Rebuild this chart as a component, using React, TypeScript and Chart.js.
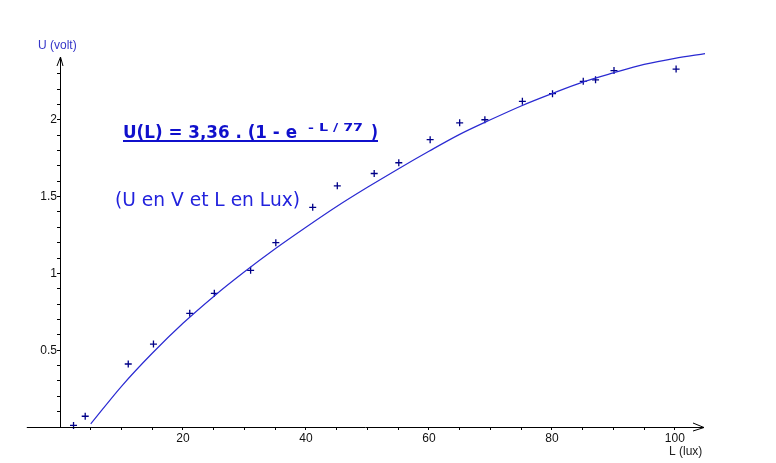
import React, { useEffect, useRef } from 'react';
import { Chart, registerables } from 'chart.js';

Chart.register(...registerables);

// Measured points (L in lux, U in volt)
const measuredL = [2.2, 4.1, 11.1, 15.2, 21.1, 25.1, 31.0, 35.1, 41.1, 45.1, 51.1, 55.1, 60.2, 65.0, 69.1, 75.2, 80.1, 85.1, 87.1, 90.1, 100.2];
const measuredU = [0.01, 0.07, 0.41, 0.54, 0.74, 0.87, 1.02, 1.20, 1.43, 1.57, 1.65, 1.72, 1.87, 1.98, 2.00, 2.12, 2.17, 2.25, 2.26, 2.32, 2.33];

// Model curve
const curveL = [5, 10, 15, 20, 25, 30, 35, 40, 45, 50, 55, 60, 65, 70, 75, 80, 85, 90, 95, 100, 104.9];
const curveU = [0.02, 0.265, 0.48, 0.675, 0.85, 1.01, 1.16, 1.3, 1.435, 1.56, 1.68, 1.795, 1.905, 2.0, 2.09, 2.17, 2.245, 2.305, 2.36, 2.4, 2.43];

// Ticks
const xTickValues = [5, 10, 15, 20, 25, 30, 35, 40, 45, 50, 55, 60, 65, 70, 75, 80, 85, 90, 95, 100];
const xLabelValues = [20, 40, 60, 80, 100];
const yTickValues = [0.1, 0.2, 0.3, 0.4, 0.5, 0.6, 0.7, 0.8, 0.9, 1.0, 1.1, 1.2, 1.3, 1.4, 1.5, 1.6, 1.7, 1.8, 1.9, 2.0, 2.1, 2.2, 2.3];
const yLabelValues = [0.5, 1, 1.5, 2];

const X_MIN = 0;
const X_MAX = 104.9;
const X_AXIS_START = -5.4;
const Y_MIN = 0;
const Y_MAX = 2.415;

const xTitle = 'L (lux)';
const yTitle = 'U (volt)';
const formulaMain = 'U(L) = 3,36 . (1 - e';
const formulaSup = '- L / 77';
const formulaEnd = ')';
const unitsNote = '(U en V et L en Lux)';

const TICK_FONT = '12px "Liberation Sans", Arial, sans-serif';

const isLabel = (list: number[], v: number) => list.some((t) => Math.abs(t - v) < 1e-6);

const drawFitted = (ctx: CanvasRenderingContext2D, text: string, x: number, y: number, width: number) => {
  const w = ctx.measureText(text).width;
  const sx = width / w;
  ctx.save();
  ctx.translate(x, y);
  ctx.scale(sx, 1);
  ctx.fillText(text, 0, 0);
  ctx.restore();
};

const decorPlugin = {
  id: 'decor',
  afterDraw(chart: any) {
    const ctx: CanvasRenderingContext2D = chart.ctx;
    const xs = chart.scales.x;
    const ys = chart.scales.y;
    const x0 = xs.getPixelForValue(0);
    const y0 = ys.getPixelForValue(0);
    const xStart = xs.getPixelForValue(X_AXIS_START);
    const xEnd = xs.getPixelForValue(X_MAX);
    const yTop = ys.getPixelForValue(Y_MAX);

    ctx.save();
    ctx.strokeStyle = '#000';
    ctx.lineWidth = 1;
    // x axis
    ctx.beginPath();
    ctx.moveTo(xStart, Math.round(y0) + 0.5);
    ctx.lineTo(xEnd - 1, Math.round(y0) + 0.5);
    ctx.stroke();
    // arrow x
    ctx.beginPath();
    ctx.moveTo(xEnd - 12, y0 - 4);
    ctx.lineTo(xEnd - 1, Math.round(y0) + 0.5);
    ctx.lineTo(xEnd - 12, y0 + 4);
    ctx.stroke();
    // y axis
    ctx.beginPath();
    ctx.moveTo(Math.round(x0) + 0.5, y0);
    ctx.lineTo(Math.round(x0) + 0.5, yTop + 1);
    ctx.stroke();
    // arrow y
    ctx.beginPath();
    ctx.moveTo(x0 - 3, yTop + 10);
    ctx.lineTo(Math.round(x0) + 0.5, yTop + 1);
    ctx.lineTo(x0 + 3, yTop + 10);
    ctx.stroke();

    // axis titles
    ctx.font = TICK_FONT;
    ctx.textBaseline = 'middle';
    ctx.textAlign = 'left';
    ctx.fillStyle = '#3535c8';
    ctx.fillText(yTitle, 38, 46);
    ctx.fillStyle = '#222';
    ctx.fillText(xTitle, 669, 452);

    // formula
    ctx.fillStyle = '#1010cc';
    ctx.strokeStyle = '#1010cc';
    ctx.textBaseline = 'alphabetic';
    ctx.font = 'bold 17px "DejaVu Sans", sans-serif';
    drawFitted(ctx, formulaMain, 123, 138, 174);
    ctx.font = 'bold 11px "DejaVu Sans", sans-serif';
    drawFitted(ctx, formulaSup, 308, 131, 55);
    ctx.font = 'bold 17px "DejaVu Sans", sans-serif';
    drawFitted(ctx, formulaEnd, 371, 138, 7);
    ctx.lineWidth = 2;
    ctx.beginPath();
    ctx.moveTo(123, 141);
    ctx.lineTo(378, 141);
    ctx.stroke();

    // units note
    ctx.fillStyle = '#2222dd';
    ctx.font = '19px "DejaVu Sans", sans-serif';
    drawFitted(ctx, unitsNote, 115, 206, 185);
    ctx.restore();
  },
};

export default function App() {
  const canvasRef = useRef<HTMLCanvasElement | null>(null);

  useEffect(() => {
    if (!canvasRef.current) return;
    const points = measuredL.map((l, i) => ({ x: l, y: measuredU[i] }));
    const curve = curveL.map((l, i) => ({ x: l, y: curveU[i] }));

    const chart = new Chart(canvasRef.current, {
      type: 'scatter',
      data: {
        datasets: [
          {
            label: 'modèle',
            data: curve,
            showLine: true,
            borderColor: '#2a2ad2',
            borderWidth: 1.2,
            pointRadius: 0,
            cubicInterpolationMode: 'monotone',
            fill: false,
            clip: false,
          } as any,
          {
            label: 'mesures',
            data: points,
            pointStyle: 'cross',
            pointRadius: 3.5,
            borderColor: '#000088',
            backgroundColor: '#000088',
            borderWidth: 1.3,
            showLine: false,
            clip: false,
          } as any,
        ],
      },
      options: {
        animation: false,
        responsive: false,
        maintainAspectRatio: false,
        layout: { padding: { left: 0, top: 56, right: 71, bottom: 0 } },
        plugins: {
          legend: { display: false },
          tooltip: { enabled: false },
          title: { display: false },
        },
        scales: {
          x: {
            type: 'linear',
            position: 'bottom',
            min: X_MIN,
            max: X_MAX,
            afterBuildTicks: (s: any) => {
              s.ticks = xTickValues.map((v) => ({ value: v }));
            },
            afterFit: (s: any) => {
              s.height = 36;
            },
            border: { display: false },
            grid: {
              display: true,
              drawOnChartArea: false,
              drawTicks: true,
              tickLength: 3,
              color: '#000',
              lineWidth: 1,
            },
            ticks: {
              autoSkip: false,
              maxRotation: 0,
              padding: 1,
              color: '#111',
              font: { family: '"Liberation Sans", Arial, sans-serif', size: 12 },
              callback: (v: any) => (isLabel(xLabelValues, Number(v)) ? String(v) : ''),
            },
          },
          y: {
            type: 'linear',
            position: 'left',
            min: Y_MIN,
            max: Y_MAX,
            afterBuildTicks: (s: any) => {
              s.ticks = yTickValues.map((v) => ({ value: v }));
            },
            afterFit: (s: any) => {
              s.width = 60;
            },
            border: { display: false },
            grid: {
              display: true,
              drawOnChartArea: false,
              drawTicks: true,
              tickLength: 3,
              color: '#000',
              lineWidth: 1,
            },
            ticks: {
              autoSkip: false,
              padding: 0,
              color: '#111',
              font: { family: '"Liberation Sans", Arial, sans-serif', size: 12 },
              callback: (v: any) => (isLabel(yLabelValues, Number(v)) ? String(Number(v)) : ''),
            },
          },
        },
      },
      plugins: [decorPlugin],
    });
    return () => chart.destroy();
  }, []);

  return (
    <div style={{ position: 'fixed', left: 0, top: 0, width: 776, height: 463, background: '#fff' }}>
      <canvas ref={canvasRef} width={776} height={463} style={{ display: 'block', width: 776, height: 463 }} />
    </div>
  );
}
